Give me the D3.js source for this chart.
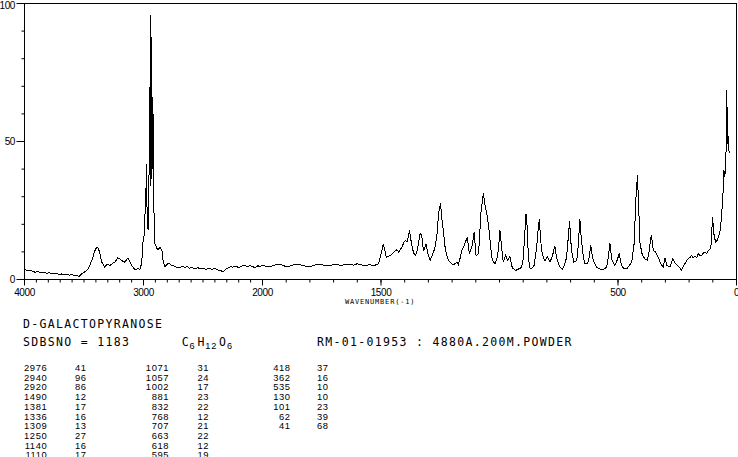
<!DOCTYPE html>
<html><head><meta charset="utf-8">
<script src="https://cdn.jsdelivr.net/npm/d3@7"></script>
<style>html,body{margin:0;padding:0;background:#fff;overflow:hidden}</style>
</head><body><svg id="c" width="738" height="457"></svg>
<script>
// ---- data (wavenumber cm-1, relative intensity) ----
const spectrumHigh = [
[4000,3.6],[3975,3.2],[3955,3.4],[3933,3.0],[3910,2.6],[3890,2.9],[3865,2.5],[3840,2.7],[3815,2.3],[3789,2.4],
[3765,2.1],[3740,2.3],[3715,1.9],[3690,2.0],[3665,1.7],[3646,1.9],[3620,1.6],[3600,1.9],[3580,1.3],[3562,1.5],
[3540,1.1],[3519,2.1],[3500,2.6],[3477,3.3],[3460,4.2],[3452,5.1],[3430,7.5],[3410,10.3],[3395,11.6],[3384,11.5],
[3368,9.9],[3351,6.3],[3335,5.2],[3325,4.5],[3305,5.6],[3283,5.1],[3260,5.8],[3241,6.3],[3225,7.2],[3216,7.9],
[3200,7.5],[3182,6.9],[3170,6.5],[3157,6.3],[3140,7.3],[3131,7.7],[3115,6.6],[3098,5.1],[3085,4.2],[3072,3.6],
[3050,3.9],[3030,3.7],[3015,6.0],[3005,13.5],[2995,16],[2988,23],[2980,30],[2976,42],[2970,25],[2965,18.5],
[2959,17.8],[2953,40],[2947,55],[2942,96],[2937,34],[2932,88],[2927,40],[2921,66],[2916,34],[2910,20],
[2904,13],[2895,12.2],[2887,11.3],[2875,10.8],[2862,11.7],[2845,10.5],[2834,6.3],[2820,4.7],[2800,5.5],[2790,5.9],
[2778,5.7],[2765,5.0],[2752,5.1],[2735,4.6],[2715,4.3],[2693,4.2],[2675,4.9],[2655,4.4],[2634,4.7],[2615,4.1],
[2595,4.5],[2570,3.9],[2545,4.3],[2524,3.9],[2500,4.2],[2475,3.7],[2450,4.1],[2425,3.6],[2400,4.0],[2381,3.5],
[2355,3.3],[2330,2.8],[2310,3.8],[2290,4.1],[2270,4.6],[2246,4.5],[2225,4.9],[2200,4.3],[2180,4.8],[2155,5.2],
[2128,4.7],[2100,5.0],[2080,4.6],[2061,4.3],[2040,5.0],[2020,4.6]
];
const spectrumLow = [
[2000,5.2],[1985,4.8],[1968,4.6],[1945,5.3],[1925,5.5],[1905,4.8],[1883,4.9],[1860,5.6],[1841,5.3],[1820,4.9],
[1799,4.6],[1778,5.3],[1757,5.5],[1735,5.0],[1715,5.0],[1693,5.6],[1672,5.1],[1650,5.4],[1630,5.6],[1615,5.2],
[1601,5.7],[1585,5.4],[1567,4.9],[1550,5.4],[1533,5.1],[1520,5.3],[1511,5.7],[1501,8.7],[1490,13],[1478,8.1],
[1470,8.4],[1462,8.7],[1452,9.3],[1441,10.3],[1433,10.8],[1425,9.9],[1418,11],[1411,11.7],[1404,13.5],[1397,14.2],
[1390,13.6],[1385,15.4],[1380,17.8],[1370,12.3],[1363,9.8],[1356,8.7],[1350,9.5],[1345,11.7],[1335,16.6],[1328,16],
[1321,10.5],[1316,11.2],[1310,13],[1305,10.5],[1300,8.7],[1293,6.9],[1285,8.5],[1278,10],[1272,11.7],[1264,16],
[1257,23.8],[1249,27.7],[1243,22],[1237,17.8],[1230,12],[1223,8.7],[1212,6.5],[1203,5.8],[1195,5.4],[1186,5.8],
[1180,6.3],[1174,5.4],[1166,7.8],[1159,10.5],[1152,11.6],[1146,13],[1136,15.4],[1127,9.3],[1117,11.7],[1112,14],
[1107,17.2],[1099,8.7],[1089,9.3],[1084,15],[1079,23.8],[1068,31.3],[1060,26.2],[1054,24.4],[1044,17.8],[1033,8.1],
[1025,6.3],[1019,5.7],[1012,7.2],[1005,10.5],[998,17.8],[991,11.7],[984,6.3],[974,8.7],[965,6.9],[956,8.3],
[946,4.2],[938,3.8],[932,3.3],[920,3.8],[912,4.0],[906,4.7],[900,7.5],[895,14.2],[888,23.8],[884,20],
[880,11.7],[876,6.5],[871,3.9],[862,4.2],[854,5.1],[848,8.5],[843,11.7],[837,18],[832,22],[827,15],
[822,10.5],[815,8.0],[808,6.9],[798,8.1],[787,6.3],[776,8.7],[770,11],[766,12],[761,9],[756,6.9],
[745,4.5],[735,3.6],[724,5.7],[717,8],[712,13],[704,21.2],[700,15],[696,10.5],[686,6.3],[674,6.9],
[668,12],[661,22],[656,16],[651,11.7],[645,7.5],[639,5.7],[628,5.7],[622,8],[615,12.3],[610,9.5],
[604,6.9],[590,4.5],[580,4.0],[569,3.5],[558,3.8],[548,4.5],[541,8],[534,13.2],[530,10],[525,6.9],
[513,5.1],[504,6.9],[495,9.3],[485,5.1],[475,3.9],[463,3.9],[452,5.1],[442,6.3],[432,13],[424,29.9],
[418,37.7],[414,29.3],[407,13],[397,8.7],[386,7.5],[376,6.9],[368,10.5],[362,15],[359,16],[351,10.5],
[341,9.9],[330,8.1],[320,5.7],[309,4.5],[302,7.9],[294,5.1],[281,4.5],[269,7.5],[257,5.7],[243,4.5],
[232,3.5],[218,5.7],[210,6.8],[204,7.5],[196,8.0],[190,8.7],[183,7.9],[176,8.3],[168,8.0],[161,9.3],
[154,8.6],[147,8.7],[140,9.6],[133,9.9],[126,9.4],[119,10.5],[112,11],[108,11.7],[101,22.6],[94,15.4],
[87,13.5],[80,14.5],[77,15.4],[71,17],[67,18.4],[63,24],[60,26.2],[56,33],[53,39.6],[49,37],
[44,46.8],[41,68.6],[38,49],[35,52],[31,45.7]
];
const xMajorTicks = [4000,3000,2000,1500,500,0];
const yMajorTicks = [0,50,100];
const xTitle = "WAVENUMBER(-1)";
const compoundName = "D-GALACTOPYRANOSE";
const sdbsLine = "SDBSNO = 1183";
const formulaParts = [["C",false],["6",true],["H",false],["12",true],["O",false],["6",true]];
const sampleInfo = "RM-01-01953 : 4880A.200M.POWDER";
const peakWnA = ["2976","2940","2920","1490","1381","1336","1309","1250","1140","1110"];
const peakIntA = ["41","96","86","12","17","16","13","27","16","17"];
const peakWnB = ["1071","1057","1002","881","832","768","707","663","618","595"];
const peakIntB = ["31","24","17","23","22","12","21","22","12","19"];
const peakWnC = ["418","362","535","130","101","62","41"];
const peakIntC = ["37","16","10","10","23","39","68"];

// ---- drawing ----
const svg = d3.select("#c");
const x = d3.scaleLinear().domain([4000,2000,0]).range([24.5,262.5,736.5]);
const y = d3.scaleLinear().domain([0,100]).range([279.5,3.5]);
const numFont = "'Liberation Sans', Arial, sans-serif";
const monoFont = "'DejaVu Sans Mono', monospace";

// frame
svg.append("rect")
  .attr("x", x(4000)).attr("y", y(100))
  .attr("width", x(0)-x(4000)).attr("height", y(0)-y(100))
  .attr("fill","none").attr("stroke","#000").attr("stroke-width",1);

// x axis: minor ticks every 100
svg.append("g").attr("transform",`translate(0,${y(0)})`)
  .call(d3.axisBottom(x).tickValues(d3.range(0,4001,100)).tickSize(3).tickFormat("").offset(0))
  .call(g=>g.select(".domain").remove())
  .call(g=>g.selectAll("line").attr("stroke","#000"));
// x axis: labelled ticks
svg.append("g").attr("transform",`translate(0,${y(0)})`)
  .call(d3.axisBottom(x).tickValues(xMajorTicks).tickSize(6).tickFormat(d3.format("d")).offset(0))
  .call(g=>g.select(".domain").remove())
  .call(g=>g.selectAll("line").attr("stroke","#000"))
  .call(g=>g.selectAll("text").attr("y",16.8).attr("dy",null)
      .attr("font-family",numFont).attr("font-size",10).attr("letter-spacing","-0.4px").attr("fill","#000"));

// y axis
svg.append("g").attr("transform",`translate(${x(4000)},0)`)
  .call(d3.axisLeft(y).tickValues(d3.range(0,101,10)).tickSize(3).tickFormat("").offset(0))
  .call(g=>g.select(".domain").remove())
  .call(g=>g.selectAll("line").attr("stroke","#000"));
svg.append("g").attr("transform",`translate(${x(4000)},0)`)
  .call(d3.axisLeft(y).tickValues(yMajorTicks).tickSize(8).tickPadding(1.5).tickFormat(d3.format("d")).offset(0))
  .call(g=>g.select(".domain").remove())
  .call(g=>g.selectAll("line").attr("stroke","#000"))
  .call(g=>g.selectAll("text").attr("dy",d=>d===100?"0.5em":"0.36em")
      .attr("font-family",numFont).attr("font-size",10).attr("letter-spacing","-0.4px").attr("fill","#000"));

// x title
svg.append("text").attr("x",345).attr("y",303.5)
  .attr("font-family",monoFont).attr("font-size",7).attr("letter-spacing","0.8px")
  .text(xTitle);

// spectrum
const allPoints = spectrumHigh.concat(spectrumLow);
svg.append("path").datum(allPoints)
  .attr("fill","none").attr("stroke","#000").attr("stroke-width",1)
  .attr("stroke-linejoin","miter").attr("shape-rendering","crispEdges")
  .attr("d", d3.line().x(d=>x(d[0])).y(d=>y(d[1])));

// header lines
const hdr = svg.append("g").attr("font-family",monoFont).attr("font-size",11.5)
  .attr("letter-spacing","1.33px").attr("fill","#000");
hdr.append("text").attr("x",23).attr("y",328.3).text(compoundName);
hdr.append("text").attr("x",23).attr("y",346).text(sdbsLine);
hdr.append("text").attr("x",317).attr("y",346).text(sampleInfo);

// formula with subscripts
let cursor = 181.7;
formulaParts.forEach(([t,sub])=>{
  if (sub) {
    svg.append("text").attr("x",cursor).attr("y",348.6)
      .attr("font-family",numFont).attr("font-size",9.2).attr("letter-spacing","0.75px").text(t);
    cursor += 5.85*t.length + 2;
  } else {
    svg.append("text").attr("x",cursor).attr("y",346)
      .attr("font-family",monoFont).attr("font-size",11.5).text(t);
    cursor += 7.9;
  }
});

// peak table
const tbl = svg.append("g").attr("font-family",numFont).attr("font-size",9.4)
  .attr("letter-spacing","0.6px").attr("text-anchor","end").attr("fill","#000");
const cols = [[peakWnA,47.3],[peakIntA,86.6],[peakWnB,169.1],[peakIntB,209.1],[peakWnC,290.6],[peakIntC,328.6]];
cols.forEach(([vals,right])=>{
  tbl.selectAll(null).data(vals).enter().append("text")
    .attr("x",right).attr("y",(d,i)=>371+9.72*i).text(d=>d);
});
</script>
</body></html>
